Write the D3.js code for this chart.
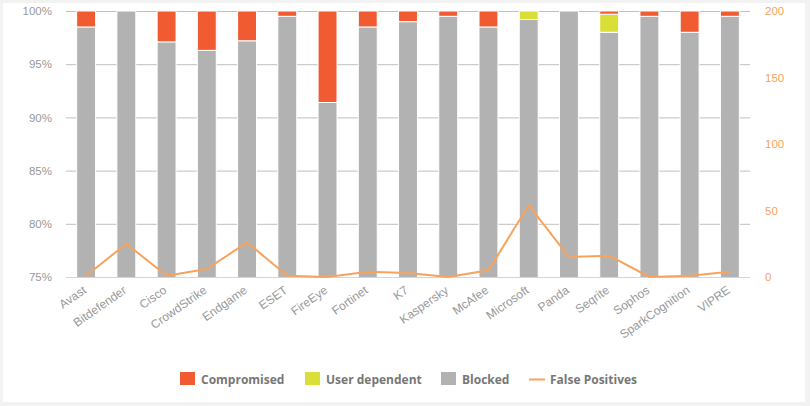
<!DOCTYPE html>
<html><head><meta charset="utf-8">
<script src="https://cdn.jsdelivr.net/npm/d3@7"></script>
<style>
html,body{margin:0;padding:0;background:#f2f2f2;}
svg{display:block;font-family:"Open Sans","Segoe UI",sans-serif;}
</style></head>
<body>
<svg id="c" width="810" height="406"></svg>
<script>
const categories = ["Avast","Bitdefender","Cisco","CrowdStrike","Endgame","ESET","FireEye","Fortinet","K7","Kaspersky","McAfee","Microsoft","Panda","Seqrite","Sophos","SparkCognition","VIPRE"];
const blocked       = [98.5,100,97.1,96.3,97.2,99.5,91.4,98.5,99.0,99.5,98.5,99.2,100,98.0,99.5,98.0,99.5];
const userDependent = [0,0,0,0,0,0,0,0,0,0,0,0.8,0,1.7,0,0,0];
const compromised   = [1.5,0,2.9,3.7,2.8,0.5,8.6,1.5,1.0,0.5,1.5,0,0,0.3,0.5,2.0,0.5];
const falsePositives = [1,25,1,6,26,1,0,4,3,0,5,54,15,16,0,1,4];
const leftTicks = [75,80,85,90,95,100];
const rightTicks = [0,50,100,150,200];

const svg = d3.select("#c");
svg.append("rect").attr("x",3).attr("y",3).attr("width",802).attr("height",399).attr("fill","#fff");

const L=66,R=750,T=11,B=277;
const x = d3.scaleBand().domain(categories).range([L,R]).paddingInner(0.53).paddingOuter(0.265);
const y = d3.scaleLinear().domain([75,100]).range([B,T]);
const y2 = d3.scaleLinear().domain([0,200]).range([B,T]);

// grid
svg.append("g").selectAll("line").data(leftTicks.filter(d=>d>75)).join("line")
  .attr("x1",L).attr("x2",R).attr("y1",d=>y(d)+0.5).attr("y2",d=>y(d)+0.5)
  .attr("stroke","#c0c0c0").attr("stroke-width",1);

// left axis labels
const la = d3.axisLeft(y).tickValues(leftTicks).tickFormat(d=>d+"%").tickSize(0).tickPadding(0);
const gl = svg.append("g").attr("transform",`translate(52,0)`).call(la);
gl.select(".domain").remove();
gl.selectAll("text").attr("fill","#999").attr("font-size","11.5px");

// right axis labels
const ra = d3.axisRight(y2).tickValues(rightTicks).tickSize(0).tickPadding(0);
const gr = svg.append("g").attr("transform",`translate(765,0)`).call(ra);
gr.select(".domain").remove();
gr.selectAll("text").attr("fill","#f7a35c").attr("font-size","11.5px");

// bars
const clip = svg.append("clipPath").attr("id","pc").append("rect").attr("x",L).attr("y",T-1).attr("width",R-L).attr("height",B-T+1);
const bars = svg.append("g").attr("clip-path","url(#pc)");
const rows = categories.map((c,i)=>({c,b:blocked[i],u:userDependent[i],k:compromised[i]}));
const bw = x.bandwidth();
// blocked
bars.selectAll(".b").data(rows).join("rect")
  .attr("x",d=>x(d.c)).attr("width",bw)
  .attr("y",d=>y(d.b)).attr("height",d=>y(70)-y(d.b))
  .attr("fill","#b2b2b2").attr("stroke","#fff").attr("stroke-width",1);
bars.selectAll(".u").data(rows.filter(d=>d.u>0)).join("rect")
  .attr("x",d=>x(d.c)).attr("width",bw)
  .attr("y",d=>y(d.b+d.u)).attr("height",d=>y(d.b)-y(d.b+d.u))
  .attr("fill","#dadf38").attr("stroke","#fff").attr("stroke-width",1);
bars.selectAll(".k").data(rows.filter(d=>d.k>0)).join("rect")
  .attr("x",d=>x(d.c)).attr("width",bw)
  .attr("y",d=>y(d.b+d.u+d.k)).attr("height",d=>y(d.b+d.u)-y(d.b+d.u+d.k))
  .attr("fill","#f15b31").attr("stroke","#fff").attr("stroke-width",1);

// bottom axis line
svg.append("line").attr("x1",L).attr("x2",R).attr("y1",B+0.5).attr("y2",B+0.5).attr("stroke","#ccd6eb");

// x labels
const xa = d3.axisBottom(x).tickSize(0).tickPadding(0);
const gx = svg.append("g").attr("transform",`translate(0,${B})`).call(xa);
gx.select(".domain").remove();
gx.selectAll("text").attr("fill","#999").attr("font-size","12px")
  .attr("text-anchor","end").attr("dy",null).attr("y",0)
  .attr("transform","translate(1,15) rotate(-35)");

// line
const line = d3.line().x((d,i)=>x(categories[i])+bw/2).y(d=>y2(d));
svg.append("path").datum(falsePositives).attr("d",line).attr("fill","none")
  .attr("stroke","#f7a35c").attr("stroke-width",2).attr("stroke-linejoin","round");

// legend
const leg = [
  {t:"Compromised",c:"#f15b31",x:180,type:"r"},
  {t:"User dependent",c:"#dadf38",x:305,type:"r"},
  {t:"Blocked",c:"#b2b2b2",x:441,type:"r"},
  {t:"False Positives",c:"#f7a35c",x:529,type:"l"}
];
const lg = svg.append("g");
leg.forEach(d=>{
  if(d.type==="r") lg.append("rect").attr("x",d.x).attr("y",372).attr("width",15).attr("height",13).attr("fill",d.c);
  else lg.append("line").attr("x1",d.x).attr("x2",d.x+16).attr("y1",379.5).attr("y2",379.5).attr("stroke",d.c).attr("stroke-width",2);
  lg.append("text").attr("x",d.x+21).attr("y",383.5).attr("fill","#777").attr("font-size","12px").attr("font-weight","bold").text(d.t);
});
</script>
</body></html>
